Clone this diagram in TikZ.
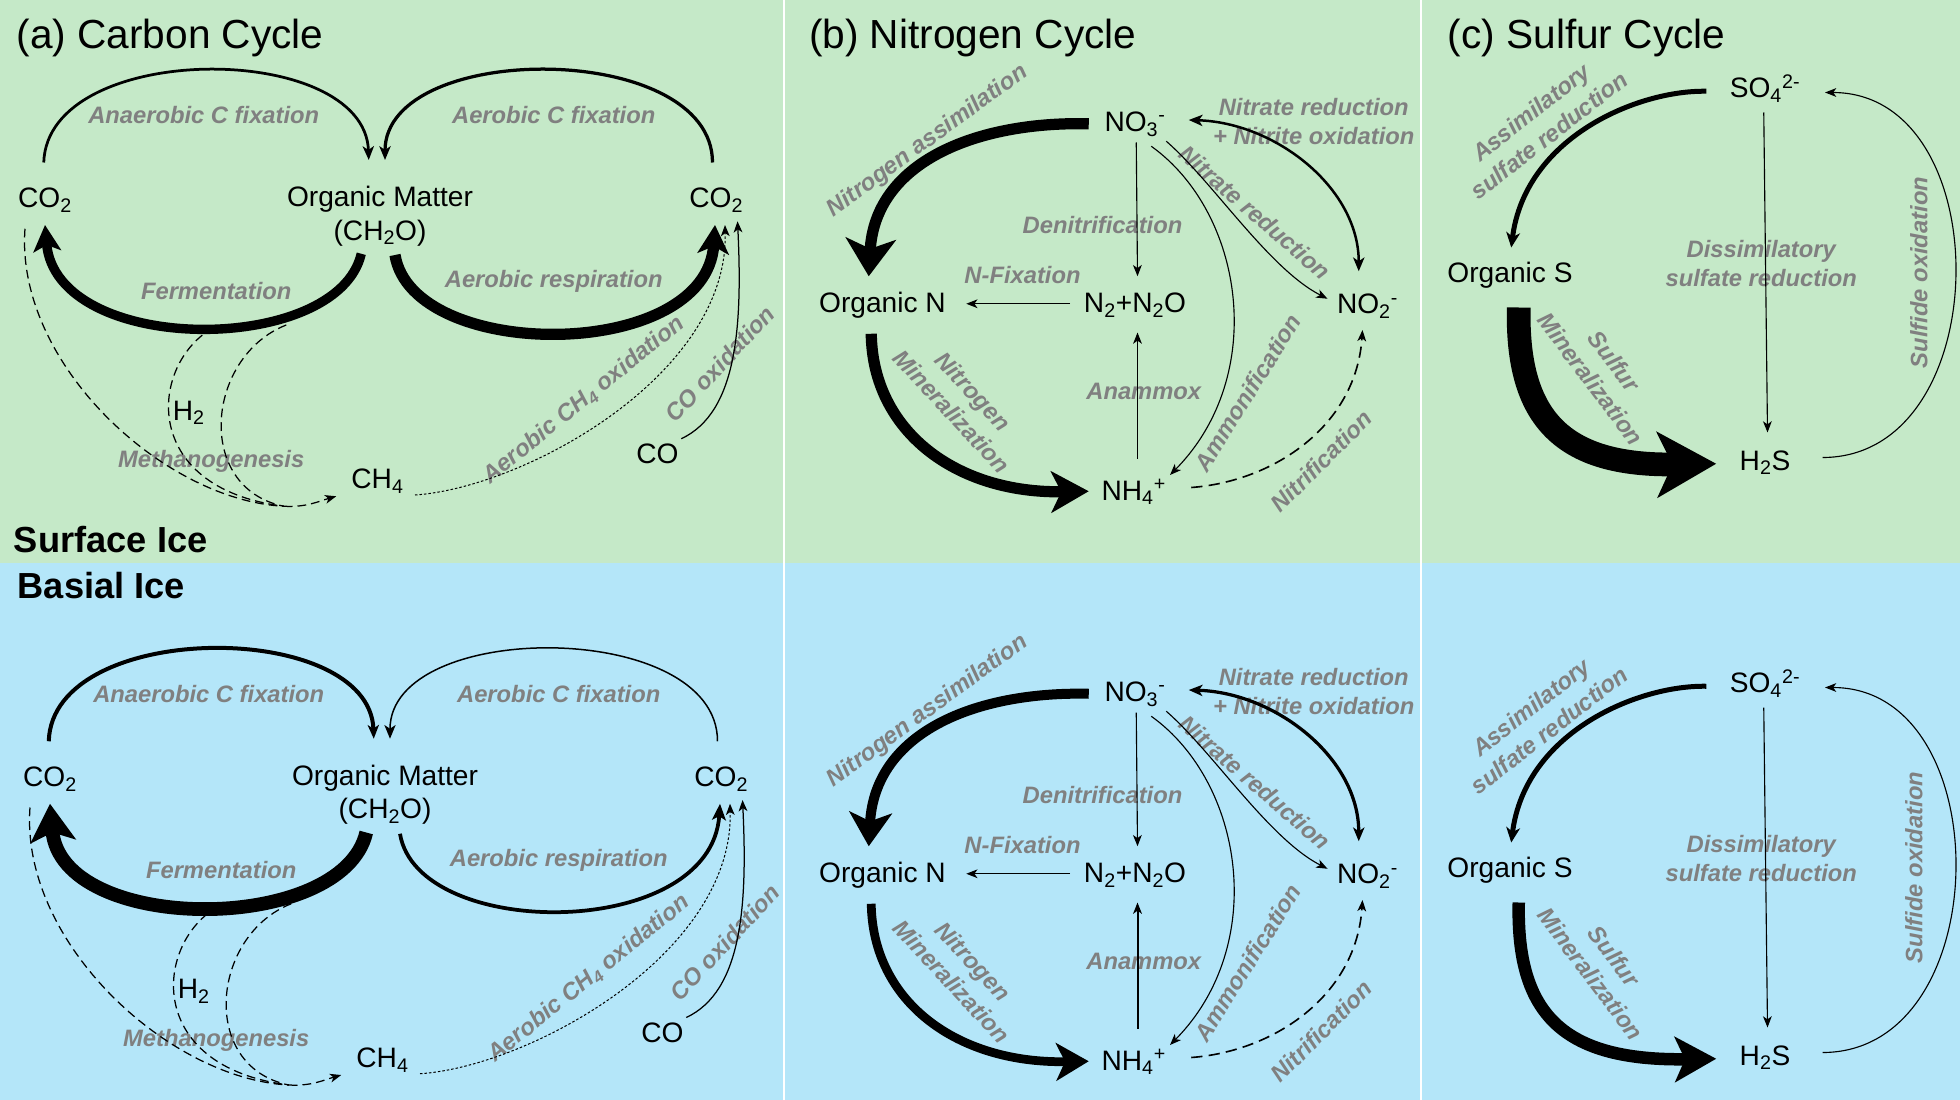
\documentclass[tikz,border=0pt]{standalone}
\usepackage{fontspec}
\setmainfont{Liberation Sans}
\usetikzlibrary{arrows.meta,calc}
\definecolor{bggreen}{RGB}{197,233,200}
\definecolor{bgblue}{RGB}{180,230,249}
\definecolor{lblgray}{RGB}{128,128,128}
\tikzset{
 sp/.style={inner sep=0pt, text height=16pt, text depth=0pt, font=\fontsize{22.5}{27}\selectfont},
 lbl/.style={inner sep=0pt, text=lblgray, align=center, font=\fontsize{19}{23.5}\selectfont\bfseries\itshape},
 ttl/.style={inner sep=0pt, anchor=base west, font=\fontsize{32.5}{38}\selectfont},
 sec/.style={inner sep=0pt, anchor=base west, font=\fontsize{29}{34}\selectfont\bfseries},
 thn/.style={line width=0.9pt},
 thinhead/.style={-{Stealth[length=9pt,width=7pt,inset=2.5pt]}},
 dsh/.style={line width=1pt, dash pattern=on 7pt off 4pt},
 dotl/.style={line width=0.8pt, dash pattern=on 2pt off 1.6pt},
}
\newcommand\CarbonPanel[7]{%
\node[lbl] (#1L1) at (163,92) {Anaerobic C fixation};
\node[lbl] (#1L2) at (443,92) {Aerobic C fixation};
\node[lbl] (#1L3) at (173,233) {Fermentation};
\node[lbl] (#1L4) at (443,225) {Aerobic respiration};
\node[lbl] (#1L5) at (169,369) {Methanogenesis};
\node[lbl,rotate=39] (#1L6) at (467,320) {Aerobic CH\textsubscript{4} oxidation};
\node[lbl,rotate=47] (#1L7) at (576,291) {CO oxidation};
\node[sp] (#1cL) at (36,158) {CO\textsubscript{2}};
\node[sp] (#1om) at (304,157) {Organic Matter};
\node[sp] (#1omf) at (304,184) {(CH\textsubscript{2}O)};
\node[sp] (#1cR) at (573,158) {CO\textsubscript{2}};
\node[sp] (#1h2) at (151,328) {H\textsubscript{2}};
\node[sp] (#1ch4) at (302,383) {CH\textsubscript{4}};
\node[sp] (#1co) at (526,363) {CO};
\coordinate (#1fa) at (171,262);
\coordinate (#1fb) at (229,260);
\coordinate (#1mg) at (227,405);
\draw[line width=#2,-{Stealth[length=11pt,width=9pt,inset=3pt]}] ($(#1cL)+(-1,-28)$) .. controls ($(#1cL)+(2,-126)$) and ($(#1om)+(-12,-125)$) .. ($(#1om)+(-9,-29)$);
\draw[line width=#3,-{Stealth[length=11pt,width=9pt,inset=3pt]}] ($(#1cR)+(-3,-28)$) .. controls ($(#1cR)+(-3,-126)$) and ($(#1om)+(4,-125)$) .. ($(#1om)+(4,-29)$);
\draw[line width=#4,-{#5}] ($(#1omf)+(-15,19)$) .. controls ($(#1omf)+(-34,101)$) and ($(#1cL)+(9,127)$) .. ($(#1cL)+(0,22)$);
\draw[line width=#6,-{#7}] ($(#1omf)+(12,20)$) .. controls ($(#1omf)+(26,106)$) and ($(#1cR)+(-8,132)$) .. ($(#1cR)+(-1,22)$);
\draw[dsh] ($(#1cL)+(-16,25)$) .. controls (12,290) and (130,400) .. (#1mg);
\draw[dsh] (#1fa) .. controls (120,290) and (110,390) .. (#1mg);
\draw[dsh] (#1fb) .. controls (165,285) and (155,390) .. (#1mg);
\draw[dsh,thinhead] (#1mg) .. controls (245,406) and (255,401) .. ($(#1ch4)+(-33,14)$);
\draw[dotl,thinhead] ($(#1ch4)+(30,13)$) .. controls (420,390) and (583,300) .. ($(#1cR)+(7,22)$);
\draw[line width=1pt,thinhead] ($(#1co)+(19,-12)$) .. controls (590,330) and (594,260) .. ($(#1cR)+(17,19)$);
}
\newcommand\NitroPanel[7]{%
\node[lbl,rotate=36] (#1L1) at (742,113) {Nitrogen assimilation};
\node[lbl,rotate=-47] (#1L2) at (770,321) {Nitrogen\\Mineralization};
\node[lbl] (#1L3) at (882,180) {Denitrification};
\node[lbl] (#1L4) at (818,220) {N-Fixation};
\node[lbl] (#1L5) at (915,313) {Anammox};
\node[lbl,rotate=58] (#1L6) at (998,314) {Ammonification};
\node[lbl,rotate=-41] (#1L7) at (1004,170) {Nitrate reduction};
\node[lbl] (#1L8) at (1051,97) {Nitrate reduction\\+ Nitrite oxidation};
\node[lbl,rotate=45] (#1L9) at (1057,369) {Nitrification};
\node[sp] (#1no3) at (908,97) {NO\textsubscript{3}\textsuperscript{-}};
\node[sp] (#1on) at (706,242) {Organic N};
\node[sp] (#1n2) at (908,242) {N\textsubscript{2}+N\textsubscript{2}O};
\node[sp] (#1no2) at (1094,243) {NO\textsubscript{2}\textsuperscript{-}};
\node[sp] (#1nh4) at (907,392) {NH\textsubscript{4}\textsuperscript{+}};
\draw[line width=#2,-{#3}] ($(#1no3)+(-37,2)$) .. controls (780,97) and (700,130) .. ($(#1on)+(-11,-21)$);
\draw[line width=#4,-{#5}] ($(#1on)+(-9,25)$) .. controls (698,345) and (765,395) .. ($(#1nh4)+(-36,1)$);
\draw[thn,thinhead] ($(#1no3)+(1,17)$) -- ($(#1n2)+(2,-21)$);
\draw[thn,thinhead] ($(#1n2)+(-52,1)$) -- ($(#1on)+(67,1)$);
\draw[line width=#7,thinhead] ($(#1nh4)+(3,-25)$) -- ($(#1n2)+(2,24)$);
\draw[thn,thinhead] ($(#1no3)+(13,20)$) .. controls (995,170) and (1015,300) .. ($(#1nh4)+(29,-12)$);
\draw[thn,thinhead] ($(#1no3)+(25,16)$) .. controls (970,145) and (1015,215) .. ($(#1no2)+(-32,-4)$);
\draw[line width=#6,{Stealth[length=11pt,width=9pt,inset=3pt]}-{Stealth[length=11pt,width=9pt,inset=3pt]}] ($(#1no3)+(43,-1)$) .. controls (1020,98) and (1087,150) .. ($(#1no2)+(-7,-26)$);
\draw[line width=1.3pt,dash pattern=on 9pt off 5pt,thinhead] ($(#1nh4)+(46,-2)$) .. controls (1020,385) and (1085,340) .. ($(#1no2)+(-4,21)$);
}
\newcommand\SulfPanel[5]{%
\node[lbl,rotate=38] (#1L1) at (1232,99) {Assimilatory\\sulfate reduction};
\node[lbl] (#1L2) at (1409,211) {Dissimilatory\\sulfate reduction};
\node[lbl,rotate=-53] (#1L3) at (1282,296) {Sulfur\\Mineralization};
\node[lbl,rotate=90] (#1L4) at (#5,218) {Sulfide oxidation};
\node[sp] (#1so4) at (1412,70) {SO\textsubscript{4}\textsuperscript{2-}};
\node[sp] (#1os) at (1208,218) {Organic S};
\node[sp] (#1h2s) at (1412,368) {H\textsubscript{2}S};
\draw[line width=#2,-{Stealth[length=12pt,width=11pt,inset=3.5pt]}] ($(#1so4)+(-47,3)$) .. controls (1310,72) and (1220,110) .. ($(#1os)+(1,-20)$);
\draw[line width=#3,-{#4}] ($(#1os)+(7,28)$) .. controls (1213,335) and (1250,373) .. ($(#1h2s)+(-39,3)$);
\draw[thn,thinhead] ($(#1so4)+(-1,20)$) -- ($(#1h2s)+(2,-22)$);
\draw[thn,thinhead] ($(#1h2s)+(46,-2)$) .. controls (1598,366) and (1600,74) .. ($(#1so4)+(48,4)$);
}
\begin{document}
\begin{tikzpicture}[x=1pt,y=-1pt]
\useasboundingbox (0,0) rectangle (1568,880);
\fill[bggreen] (0,0) rectangle (1568,450);
\fill[bgblue] (0,450) rectangle (1568,880);
\draw[white,line width=1.8pt] (627,0) -- (627,880);
\draw[white,line width=1.8pt] (1137,0) -- (1137,880);
\node[ttl] (ta) at (13,39) {(a) Carbon Cycle};
\node[ttl] (tb) at (647,39) {(b) Nitrogen Cycle};
\node[ttl] (tc) at (1158,39) {(c) Sulfur Cycle};
\node[sec] (surf) at (11,442) {Surface Ice};
\node[sec] (bas) at (14,479) {Basial Ice};
\CarbonPanel{Ct}{2.2pt}{2.6pt}{7.5pt}{Stealth[length=21pt,width=22pt,inset=5pt]}{9pt}{Stealth[length=23pt,width=25pt,inset=6pt]}
\begin{scope}[shift={(4,463)}]
\CarbonPanel{Cb}{3.2pt}{1.2pt}{11pt}{Stealth[length=30pt,width=36pt,inset=7pt]}{3pt}{Stealth[length=13pt,width=11pt,inset=3pt]}
\end{scope}
\NitroPanel{Nt}{9pt}{Stealth[length=30pt,width=40pt,inset=8pt]}{9pt}{Stealth[length=30pt,width=33pt,inset=8pt]}{2pt}{1pt}
\begin{scope}[shift={(0,456)}]
\NitroPanel{Nb}{8pt}{Stealth[length=27pt,width=34pt,inset=7pt]}{7pt}{Stealth[length=26pt,width=30pt,inset=7pt]}{2.6pt}{1.6pt}
\end{scope}
\SulfPanel{St}{4pt}{19pt}{Stealth[length=47pt,width=52pt,inset=12pt]}{1535}
\begin{scope}[shift={(0,476)}]
\SulfPanel{Sb}{4pt}{10pt}{Stealth[length=33pt,width=36pt,inset=8pt]}{1531}
\end{scope}
\end{tikzpicture}
\end{document}
